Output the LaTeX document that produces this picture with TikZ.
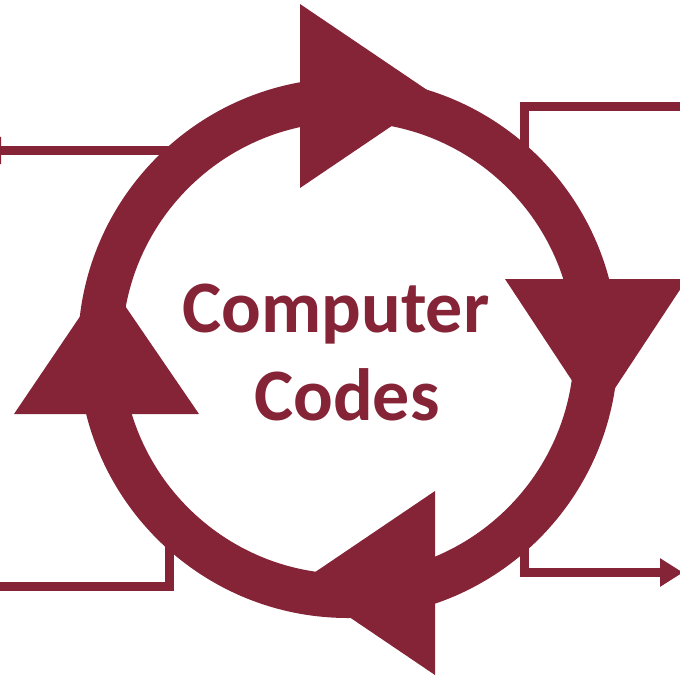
\documentclass[tikz,border=0pt]{standalone}
\usepackage{fontspec}
\setmainfont{Carlito}
\usetikzlibrary{arrows.meta}
\definecolor{wine}{RGB}{133,35,55}
\tikzset{
  ringline/.style={draw=wine, line width=44pt},
  headfill/.style={fill=wine, draw=none},
  wire/.style={draw=wine, line width=9pt, line join=miter, line cap=butt},
  lbl/.style={text=wine, font=\fontsize{74}{88}\selectfont\bfseries, anchor=base, inner sep=0pt}
}
\begin{document}
\begin{tikzpicture}[x=1pt,y=-1pt]
\useasboundingbox (0,0) rectangle (680,678);
\clip (0,0) rectangle (680,678);
% connectors (behind ring)
\coordinate (tlA) at (190,150.5);
\coordinate (tlB) at (-21,150.5);
\draw[wire, -{Triangle[length=22pt,width=26pt]}] (tlA) -- (tlB);
\coordinate (trA) at (524,165);
\coordinate (trB) at (524,106.5);
\coordinate (trC) at (700,106.5);
\draw[wire] (trA) -- (trB) -- (trC);
\coordinate (blA) at (169,535);
\coordinate (blB) at (169,586.5);
\coordinate (blC) at (-10,586.5);
\draw[wire] (blA) -- (blB) -- (blC);
\coordinate (brA) at (524,535);
\coordinate (brB) at (524,572.5);
\coordinate (brC) at (683,572.5);
\draw[wire, -{Triangle[length=23pt,width=27pt]}] (brA) -- (brB) -- (brC);
% ring
\coordinate (c) at (348,348);
\draw[ringline] (c) circle[radius=248pt];
% arrowheads
\fill[headfill] (300,4) -- (300,188) -- (436,96) -- cycle;
\fill[headfill] (505,279) -- (687,279) -- (596,417) -- cycle;
\fill[headfill] (435,491) -- (435,675) -- (299,583) -- cycle;
\fill[headfill] (14,414) -- (199,414) -- (106,278) -- cycle;
% text
\node[lbl] (t1) at (336,332) {Computer};
\node[lbl] (t2) at (347,420) {Codes};
\end{tikzpicture}
\end{document}
